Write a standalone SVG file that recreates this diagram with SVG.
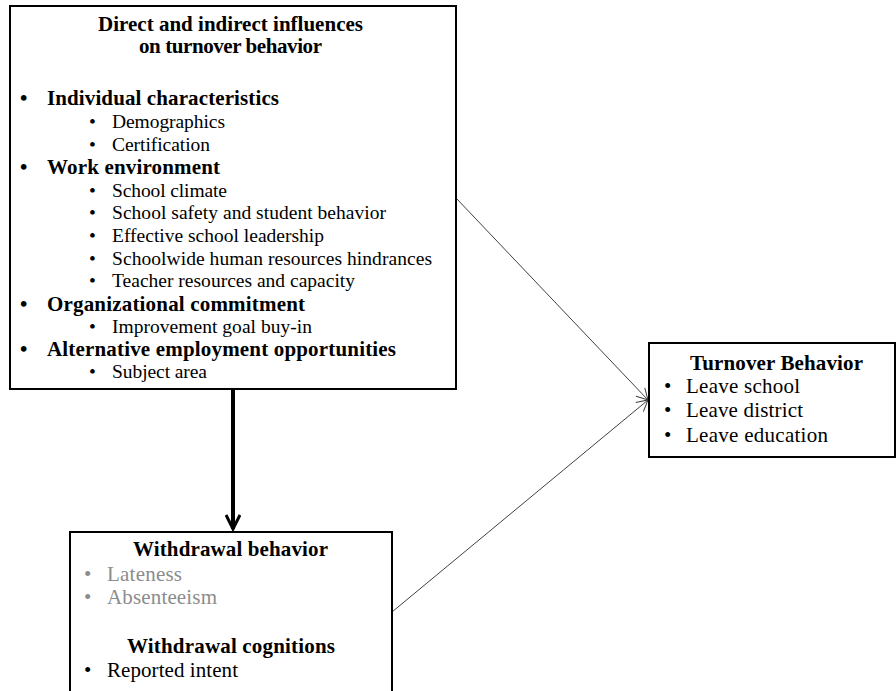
<svg xmlns="http://www.w3.org/2000/svg" width="896" height="691" viewBox="0 0 896 691">
<style>
.box{fill:#fff;stroke:#000;stroke-width:2}
text{font-family:"Liberation Serif","Times New Roman",serif;fill:#000}
.h{font-weight:bold;font-size:21px}
.b{font-size:21px}
.s{font-size:19.5px}
.g{fill:#8c8c8c}
.thin{stroke:#404040;stroke-width:1;fill:none}
</style>
<defs>
<marker id="open" markerWidth="14" markerHeight="14" refX="12" refY="7" orient="auto" markerUnits="userSpaceOnUse">
<path d="M1,1 L12,7 L1,13" fill="none" stroke="#404040" stroke-width="1"/>
</marker>
<marker id="thick" markerWidth="20" markerHeight="16" refX="17" refY="8" orient="auto" markerUnits="userSpaceOnUse">
<path d="M3,1 L17,8 L3,15" fill="none" stroke="#000" stroke-width="3"/>
</marker>
</defs>
<g id="connectors">
<line class="thin" x1="456" y1="198" x2="648" y2="400" marker-end="url(#open)"/>
<line class="thin" x1="392" y1="612" x2="648" y2="400" marker-end="url(#open)"/>
<line x1="233" y1="389" x2="233" y2="529" stroke="#000" stroke-width="4" marker-end="url(#thick)"/>
</g>
<g id="influences">
<rect class="box" x="10" y="6" width="446" height="383"/>
<text class="h" x="98" y="31" textLength="265" lengthAdjust="spacing">Direct and indirect influences</text>
<text class="h" x="139" y="53" textLength="183" lengthAdjust="spacing">on turnover behavior</text>
<text class="h" x="20" y="105">•</text><text class="h" x="47" y="105" textLength="232" lengthAdjust="spacing">Individual characteristics</text>
<text class="s" x="89" y="128">•</text><text class="s" x="112" y="128" textLength="113" lengthAdjust="spacing">Demographics</text>
<text class="s" x="89" y="151">•</text><text class="s" x="112" y="151" textLength="98" lengthAdjust="spacing">Certification</text>
<text class="h" x="20" y="174">•</text><text class="h" x="47" y="174" textLength="173" lengthAdjust="spacing">Work environment</text>
<text class="s" x="89" y="197">•</text><text class="s" x="112" y="197" textLength="115" lengthAdjust="spacing">School climate</text>
<text class="s" x="89" y="219">•</text><text class="s" x="112" y="219" textLength="274" lengthAdjust="spacing">School safety and student behavior</text>
<text class="s" x="89" y="242">•</text><text class="s" x="112" y="242" textLength="212" lengthAdjust="spacing">Effective school leadership</text>
<text class="s" x="89" y="265">•</text><text class="s" x="112" y="265" textLength="320" lengthAdjust="spacing">Schoolwide human resources hindrances</text>
<text class="s" x="89" y="287">•</text><text class="s" x="112" y="287" textLength="243" lengthAdjust="spacing">Teacher resources and capacity</text>
<text class="h" x="20" y="311">•</text><text class="h" x="47" y="311" textLength="258" lengthAdjust="spacing">Organizational commitment</text>
<text class="s" x="89" y="333">•</text><text class="s" x="112" y="333" textLength="200" lengthAdjust="spacing">Improvement goal buy-in</text>
<text class="h" x="20" y="356">•</text><text class="h" x="47" y="356" textLength="349" lengthAdjust="spacing">Alternative employment opportunities</text>
<text class="s" x="89" y="378">•</text><text class="s" x="112" y="378" textLength="95" lengthAdjust="spacing">Subject area</text>
</g>
<g id="turnover">
<rect class="box" x="649" y="343" width="246" height="114"/>
<text class="h" x="690" y="370" textLength="173" lengthAdjust="spacing">Turnover Behavior</text>
<text class="b" x="664" y="393">•</text><text class="b" x="686" y="393" textLength="114" lengthAdjust="spacing">Leave school</text>
<text class="b" x="664" y="417">•</text><text class="b" x="686" y="417" textLength="117" lengthAdjust="spacing">Leave district</text>
<text class="b" x="664" y="442">•</text><text class="b" x="686" y="442" textLength="142" lengthAdjust="spacing">Leave education</text>
</g>
<g id="withdrawal">
<rect class="box" x="70" y="532" width="322" height="170"/>
<text class="h" x="133" y="556" textLength="195" lengthAdjust="spacing">Withdrawal behavior</text>
<text class="b g" x="84" y="581">•</text><text class="b g" x="107" y="581" textLength="75" lengthAdjust="spacing">Lateness</text>
<text class="b g" x="84" y="604">•</text><text class="b g" x="107" y="604" textLength="110" lengthAdjust="spacing">Absenteeism</text>
<text class="h" x="127" y="653" textLength="208" lengthAdjust="spacing">Withdrawal cognitions</text>
<text class="b" x="84" y="677">•</text><text class="b" x="107" y="677" textLength="131" lengthAdjust="spacing">Reported intent</text>
</g>
</svg>
